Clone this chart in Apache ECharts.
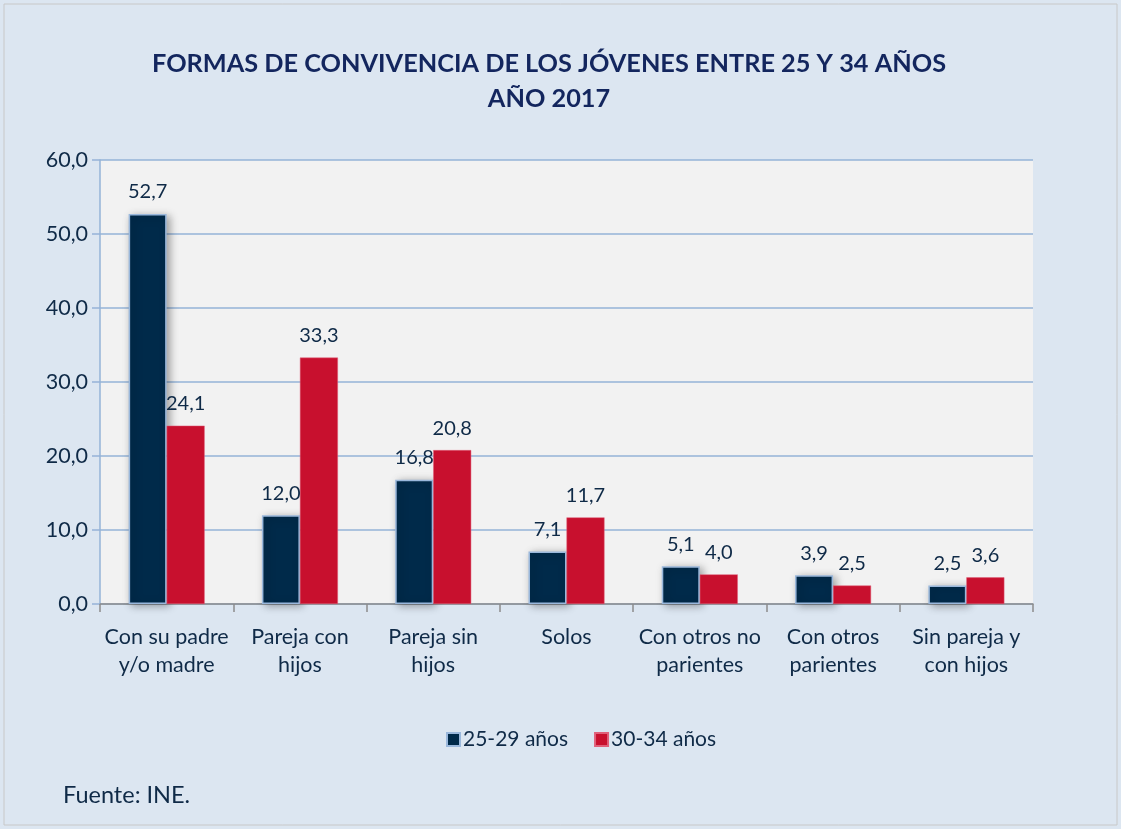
<!DOCTYPE html>
<html>
<head>
<meta charset="utf-8">
<script src="https://cdn.jsdelivr.net/npm/echarts@6/dist/echarts.min.js"></script>
<style>
  html, body { margin: 0; padding: 0; background: #ffffff; }
  #chart { width: 1121px; height: 829px; }
</style>
</head>
<body>
<div id="chart"></div>
<script>
// categorías y valores (%)
const categories = ['Con su padre\ny/o madre', 'Pareja con\nhijos', 'Pareja sin\nhijos', 'Solos',
    'Con otros no\nparientes', 'Con otros\nparientes', 'Sin pareja y\ncon hijos']
const values2529 = [52.7, 12.0, 16.8, 7.1, 5.1, 3.9, 2.5]
const values3034 = [24.1, 33.3, 20.8, 11.7, 4.0, 2.5, 3.6]
const seriesNames = ['25-29 años', '30-34 años']

const textColor = '#0f2a47'
const fontName = 'Lato'
const fmt = v => v.toFixed(1).replace('.', ',')

const myChart = echarts.init(document.getElementById('chart'))

myChart.setOption({
    backgroundColor: '#dce6f1',
    graphic: [
        {type: 'rect', shape: {x: 4, y: 4, width: 1113, height: 821},
            style: {fill: 'none', stroke: '#c8c8c8', lineWidth: 1}, silent: true},
        {type: 'text', left: 63, top: 783,
            style: {text: 'Fuente: INE.', fill: textColor, font: '23.5px ' + fontName}}
    ],
    title: {
        text: 'FORMAS DE CONVIVENCIA DE LOS JÓVENES ENTRE 25 Y 34 AÑOS\nAÑO 2017',
        left: 544, top: 41, textAlign: 'center',
        textStyle: {color: '#13265e', fontFamily: fontName, fontWeight: 'bold', fontSize: 25.3, lineHeight: 35}
    },
    legend: {
        data: seriesNames,
        bottom: 74, left: 441,
        icon: 'rect',
        itemWidth: 13, itemHeight: 13, itemGap: 26,
        textStyle: {color: textColor, fontFamily: fontName, fontSize: 21, padding: [0, 0, 0, -2]}
    },
    grid: {left: 100, right: 88, top: 160, bottom: 225, containLabel: false,
        show: true, backgroundColor: '#f2f2f2', borderWidth: 0},
    xAxis: {
        type: 'category',
        data: categories,
        axisLine: {lineStyle: {color: '#8c8c8c', width: 1.5}},
        axisTick: {show: true, length: 8, lineStyle: {color: '#8c8c8c', width: 1.5}},
        axisLabel: {color: textColor, fontFamily: fontName, fontSize: 21.5, lineHeight: 28, margin: 19, interval: 0}
    },
    yAxis: {
        type: 'value',
        min: 0, max: 60, interval: 10,
        axisLine: {show: true, lineStyle: {color: '#95b3d7', width: 1.5}},
        axisTick: {show: true, length: 8, lineStyle: {color: '#95b3d7', width: 1.5}},
        splitLine: {lineStyle: {color: '#95b3d7', width: 1.5}},
        axisLabel: {color: textColor, fontFamily: fontName, fontSize: 21.5, margin: 12, formatter: v => fmt(v)}
    },
    series: [
        {
            name: seriesNames[0], type: 'bar', data: values2529,
            barWidth: 38, barGap: '0%',
            itemStyle: {color: '#002a4a', borderColor: '#9ab8dc', borderWidth: 1.5,
                shadowColor: 'rgba(0,0,0,0.35)', shadowBlur: 8, shadowOffsetX: 3, shadowOffsetY: 2},
            label: {show: true, position: 'top', distance: 12, color: textColor,
                fontFamily: fontName, fontSize: 20, formatter: p => fmt(p.value)}
        },
        {
            name: seriesNames[1], type: 'bar', data: values3034,
            barWidth: 38,
            itemStyle: {color: '#c8102e', borderColor: '#e0607a', borderWidth: 0.5},
            label: {show: true, position: 'top', distance: 12, color: textColor,
                fontFamily: fontName, fontSize: 20, formatter: p => fmt(p.value)}
        }
    ]
})
</script>
</body>
</html>
